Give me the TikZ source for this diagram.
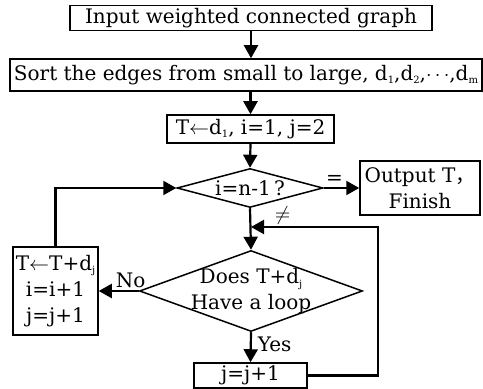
\documentclass[tikz,border=0pt]{standalone}
\usepackage{fontspec}
\setmainfont{DejaVu Serif}
\newfontfamily\cjk{Noto Sans CJK SC}
\usetikzlibrary{arrows.meta,shapes.geometric}
\newcommand{\lowsub}[1]{\raisebox{-1.8pt}{\fontsize{5}{5}\selectfont #1}}
\tikzset{
  stepbox/.style={draw, line width=0.75pt, inner sep=0pt, align=center, font=\fontsize{10}{13}\selectfont},
  test/.style={diamond, draw, line width=0.75pt, inner sep=0pt, aspect=3},
  flow/.style={line width=1.1pt, -{Triangle[length=6.5pt,width=7pt]}},
  tag/.style={font=\fontsize{10}{13}\selectfont, inner sep=1pt},
}

\begin{document}
\begin{tikzpicture}[x=0.5pt,y=-0.5pt]
\useasboundingbox (0,0) rectangle (483,389);
\node[stepbox, minimum width=181pt, minimum height=12.5pt] (input) at (251,18) {Input weighted connected graph};
\node[stepbox, minimum width=236pt, minimum height=16pt] (sort) at (246,75) {Sort the edges from small to large, d\lowsub{1},d\lowsub{2},$\cdots$,d\lowsub{m}};
\node[stepbox, minimum width=83.5pt, minimum height=14pt] (init) at (250.5,129) {T$\leftarrow$d\lowsub{1}, i=1, j=2};
\node[test, minimum width=73pt, minimum height=19.5pt] (cond) at (250,188) {};
\node[tag] at (cond) {i=n-1\,?};
\node[stepbox, minimum width=60pt, minimum height=27pt] (out) at (420,188) {Output T{\cjk ，}\\Finish};
\node[test, minimum width=111.5pt, minimum height=40.5pt] (loopq) at (251,291) {};
\node[tag, align=center] at (loopq) {Does T+d\lowsub{j}\\Have a loop};
\node[stepbox, minimum width=42.5pt, minimum height=44pt] (upd) at (55.5,291) {T$\leftarrow$T+d\lowsub{j}\\i=i+1\\j=j+1};
\node[stepbox, minimum width=56.5pt, minimum height=12.5pt] (inc) at (250.5,375.5) {j=j+1};
\coordinate (join) at (251,227);
\coordinate (back) at (378,227);

\draw[flow] (input.south) -- (input.south |- sort.north);
\draw[flow] (sort.south -| init.north) -- (init.north);
\draw[flow] (init.south) -- (cond.north);
\draw[flow] (cond.east) -- node[tag, above, pos=0.3] {=} (out.west);
\draw[flow] (cond.south) -- (loopq.north);
\draw[flow] (loopq.west) -- node[tag, above, pos=0.2] {No} (upd.east);
\draw[flow] (upd.north) |- (cond.west);
\draw[flow] (loopq.south) -- node[tag, right, xshift=2pt, pos=0.4] {Yes} (inc.north);
\draw[flow] (inc.east) -| (back) -- node[tag, above, pos=0.75] {$\neq$} (join);
\end{tikzpicture}
\end{document}
